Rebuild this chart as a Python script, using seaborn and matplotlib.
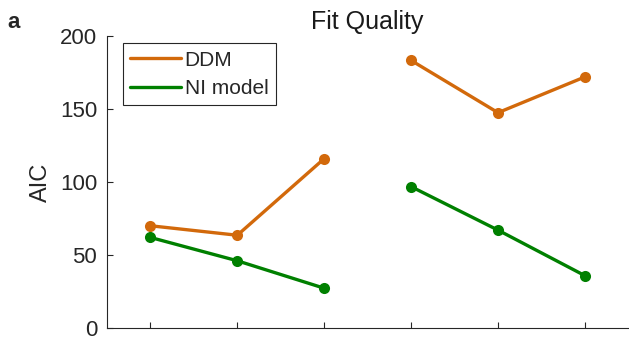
import matplotlib
matplotlib.use("Agg")
import matplotlib.pyplot as plt
from matplotlib.lines import Line2D
import seaborn as sns
import pandas as pd

# Condition positions along the x axis (two blocks of three)
positions = [1, 2, 3, 4, 5, 6]
blocks = ["A", "A", "A", "B", "B", "B"]

# AIC per condition for each model
ddm_aic = [70, 63.5, 116, 183.3, 147.5, 172]
ni_aic = [62, 46, 27.2, 96.8, 67, 35.8]

models = ["DDM", "NI model"]
colors = {"DDM": "#D2690B", "NI model": "#008000"}

rows = []
for m, vals in zip(models, [ddm_aic, ni_aic]):
    for p, b, v in zip(positions, blocks, vals):
        rows.append({"pos": p, "block": b, "AIC": v, "model": m})
df = pd.DataFrame(rows)

sns.set_style("ticks")
plt.rcParams["font.family"] = ["Liberation Sans", "DejaVu Sans"]

fig = plt.figure(figsize=(6.29, 3.37), dpi=100)
ax = fig.add_axes([0.170, 0.027, 0.829, 0.866])

sns.lineplot(data=df, x="pos", y="AIC", hue="model", units="block",
             estimator=None, palette=colors, marker="o", markersize=8,
             markeredgewidth=0, linewidth=2.4, legend=False, ax=ax)

ax.set_xlim(0.5, 6.5)
ax.set_ylim(0, 200)
ax.set_xticks(positions)
ax.set_xticklabels([])
ax.set_yticks([0, 50, 100, 150, 200])
ax.set_xlabel("")
ax.set_ylabel("AIC", fontsize=17, color="#262626", labelpad=6)
ax.tick_params(axis="both", direction="in", length=4.5, width=0.8,
               colors="#262626", labelsize=16, pad=7)
for s in ["top", "right"]:
    ax.spines[s].set_visible(False)
for s in ["left", "bottom"]:
    ax.spines[s].set_color("#262626")
    ax.spines[s].set_linewidth(0.8)

ax.set_title("Fit Quality", fontsize=18, color="#1a1a1a", pad=5)

handles = [Line2D([0], [0], color=colors[m], lw=2.4) for m in models]
leg = ax.legend(handles, models, loc="upper left", bbox_to_anchor=(0.031, 0.975),
                borderaxespad=0, fontsize=15, handlelength=2.45, handletextpad=0.15,
                borderpad=0.35, labelspacing=0.45, fancybox=False,
                framealpha=1, edgecolor="#262626")
leg.get_frame().set_linewidth(0.8)

fig.text(0.012, 0.965, "a", fontsize=16, fontweight="bold", va="top", ha="left")

fig.savefig("out.png", dpi=100)
